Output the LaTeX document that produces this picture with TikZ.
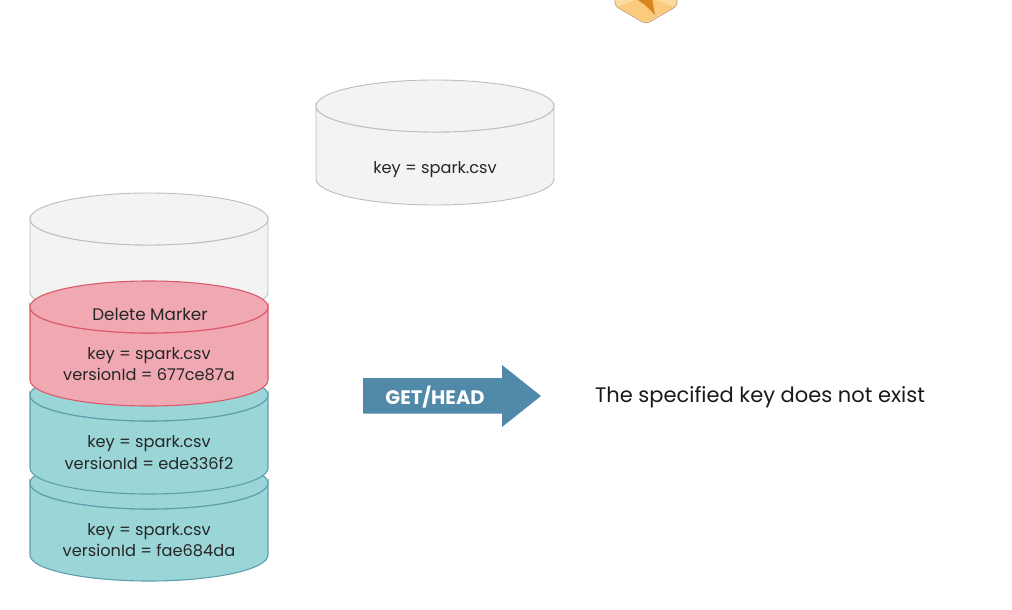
\documentclass[tikz,border=0pt]{standalone}
\usepackage{fontspec}
\setmainfont{Poppins}
\usetikzlibrary{arrows}
\definecolor{graybody}{HTML}{F3F3F3}
\definecolor{grayline}{HTML}{BDBDBD}
\definecolor{redbody}{HTML}{F0A9B3}
\definecolor{redline}{HTML}{DC5A6C}
\definecolor{tealbody}{HTML}{9AD5D7}
\definecolor{tealline}{HTML}{5F9FAD}
\definecolor{arrowblue}{HTML}{508AA8}
\definecolor{logolight}{HTML}{FBDC9E}
\definecolor{logomid}{HTML}{FACB7C}
\definecolor{logodark}{HTML}{D9861F}
\definecolor{logoline}{HTML}{CF9B78}
\newcommand{\drawbucket}[4]{
	\draw[#4] (#1-119,#2) -- (#1-119,#2+#3) arc[start angle=180,end angle=0,x radius=119,y radius=26] -- (#1+119,#2) arc[start angle=0,end angle=180,x radius=119,y radius=26] -- cycle;
	\draw[#4] (#1,#2) ellipse[x radius=119,y radius=26];
}
\begin{document}
\begin{tikzpicture}[x=1pt,y=-1pt,
	graybucket/.style={line width=0.9pt,color=grayline,fill=graybody},
	redbucket/.style={line width=1.1pt,color=redline,fill=redbody},
	tealbucket/.style={line width=1.1pt,color=tealline,fill=tealbody},
	label/.style={inner sep=0pt,font=\fontsize{16.2}{16.2}\selectfont,text=black!85}]
		\useasboundingbox[clip] (0,0) rectangle (1012,610);
		\filldraw[fill=logolight,draw=logoline,line width=0.8pt,rounded corners=4pt] (615,-16) -- (646,-34) -- (677,-16) -- (677,6) -- (646,24) -- (615,6) -- cycle;
		\fill[logomid] (618,7) -- (646,-4) -- (674,7) -- (646,22) -- cycle;
		\fill[logodark] (635,-2) -- (652,-2) -- (655,15) -- (645,5) -- cycle;
		\drawbucket{435}{106}{73}{graybucket}
		\drawbucket{149}{219}{73}{graybucket}
		\drawbucket{149}{483}{72}{tealbucket}
		\drawbucket{149}{395}{73}{tealbucket}
		\drawbucket{149}{307}{73}{redbucket}
		\node[label] (topkey) at (435,170) {key = spark.csv};
		\node[label,font=\fontsize{16.8}{16.8}\selectfont] (marker) at (150,314) {Delete Marker};
		\node[label] (redkey) at (149,356) {key = spark.csv};
		\node[label] (redid) at (149,374) {versionId = 677ce87a};
		\node[label] (midkey) at (149,444) {key = spark.csv};
		\node[label] (midid) at (149,463) {versionId = ede336f2};
		\node[label] (lowkey) at (149,532) {key = spark.csv};
		\node[label] (lowid) at (149,550) {versionId = fae684da};
		\fill[arrowblue] (363,378) -- (502,378) -- (502,365) -- (541,396) -- (502,427) -- (502,413.5) -- (363,413.5) -- cycle;
		\node[inner sep=0pt,font=\fontsize{19.5}{19.5}\selectfont\bfseries,text=white] (gethead) at (435,397) {GET/HEAD};
		\node[inner sep=0pt,font=\fontsize{21}{21}\selectfont,text=black!90] (result) at (760,397) {The specified key does not exist};
	\end{tikzpicture}
\end{document}
